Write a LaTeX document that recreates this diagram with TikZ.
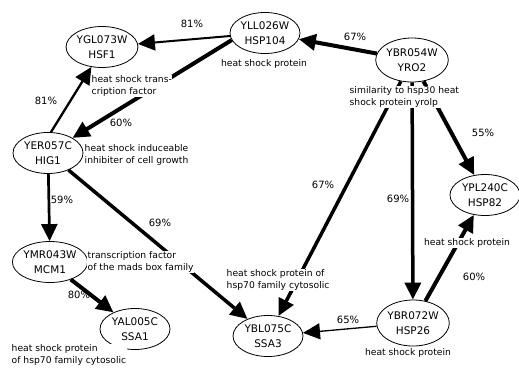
\documentclass[tikz,border=0pt]{standalone}
\usepackage{fontspec}
\setmainfont{DejaVu Sans}
\usetikzlibrary{shapes.geometric,arrows.meta}
\tikzset{
  gene/.style={ellipse,draw,line width=0.8pt,fill=white,inner sep=0pt,
    minimum width=70pt,minimum height=41pt,align=center,
    font=\fontsize{10.5}{14.5}\selectfont},
  desc/.style={fill=white,inner sep=0.5pt,align=left,
    font=\fontsize{9.2}{12.8}\selectfont},
  pct/.style={inner sep=0pt,font=\fontsize{10}{12}\selectfont},
  edge/.style={draw,-{Triangle[length=17pt,width=16pt]}}
}
\begin{document}
\begin{tikzpicture}[x=1pt,y=-1pt]
\useasboundingbox (0,0) rectangle (519,367);
% nodes
\node[gene] (hsf1) at (102,47) {YGL073W\\HSF1};
\node[gene] (hig1) at (48,153) {YER057C\\HIG1};
\node[gene] (hsp104) at (265,33) {YLL026W\\HSP104};
\node[gene,minimum height=44pt] (yro2) at (412,60) {YBR054W\\YRO2};
\node[gene] (hsp82) at (485,195) {YPL240C\\HSP82};
\node[gene,minimum height=46pt] (hsp26) at (413,323) {YBR072W\\HSP26};
\node[gene] (ssa3) at (268,336) {YBL075C\\SSA3};
\node[gene] (mcm1) at (50,262) {YMR043W\\MCM1};
\node[gene] (ssa1) at (135,329) {YAL005C\\SSA1};
% edges
\draw[edge,line width=2pt] (hsp104) -- (hsf1);
\draw[edge,line width=4pt] (hsp104.192) -- (hig1);
\draw[edge,line width=4pt] (yro2) -- (hsp104);
\draw[edge,line width=3.5pt] (yro2) -- (ssa3);
\draw[edge,line width=3.5pt] (yro2) -- (hsp26);
\draw[edge,line width=4pt] (yro2) -- (hsp82);
\draw[edge,line width=4pt] (hsp26) -- (hsp82);
\draw[edge,line width=1.3pt] (hsp26) -- (ssa3);
\draw[edge,line width=2.7pt] (hig1) -- (mcm1);
\draw[edge,line width=3.5pt] (hig1) -- (ssa3);
\draw[edge,line width=4pt] (mcm1.-40) -- (ssa1);
% descriptions
\node[desc,anchor=west] (dhsf1) at (91,86) {heat shock trans-\\cription factor};
\node[desc,anchor=west] (dhig1) at (84,155) {heat shock induceable\\inhibiter of cell growth};
\node[desc] (dhsp104) at (264,64) {heat shock protein};
\node[desc,anchor=west] (dyro2) at (349,97) {similarity to hsp30 heat\\shock protein yrolp};
\node[desc] (dhsp82) at (467,243) {heat shock protein};
\node[desc,anchor=west] (dmcm1) at (87,262) {transcription factor\\of the mads box family};
\node[desc,anchor=west] (dssa1) at (11,355) {heat shock protein\\of hsp70 family cytosolic};
\node[desc,anchor=west] (dssa3) at (226,280) {heat shock protein of\\hsp70 family cytosolic};
\node[desc] (dhsp26) at (408,353) {heat shock protein};
% edge drawn above the labels
\draw[edge,line width=2.3pt] (hig1.82) -- (hsf1.242);
% percentages
\node[pct] (p1) at (192,24) {81\%};
\node[pct] (p2) at (46,101) {81\%};
\node[pct] (p3) at (121,123) {60\%};
\node[pct] (p4) at (355,37) {67\%};
\node[pct] (p5) at (483,133) {55\%};
\node[pct] (p6) at (323,185) {67\%};
\node[pct] (p7) at (398,199) {69\%};
\node[pct] (p8) at (62,200) {59\%};
\node[pct] (p9) at (160,223) {69\%};
\node[pct] (p10) at (79,295) {80\%};
\node[pct] (p11) at (474,277) {60\%};
\node[pct] (p12) at (348,320) {65\%};
\end{tikzpicture}
\end{document}
